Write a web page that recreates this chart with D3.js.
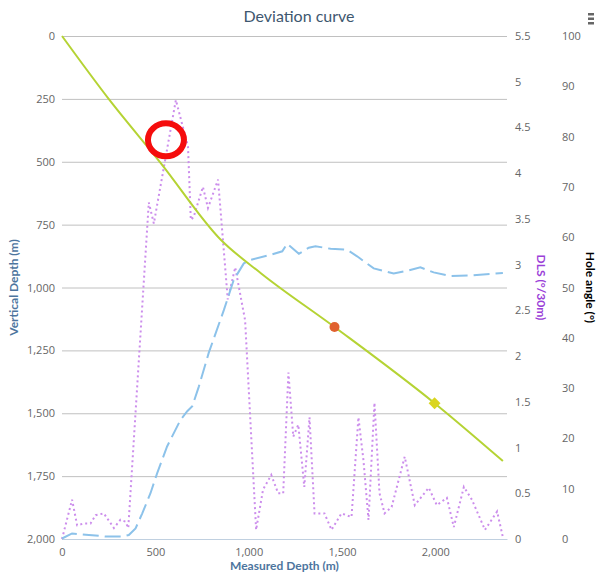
<!DOCTYPE html>
<html>
<head>
<meta charset="utf-8">
<script src="https://cdn.jsdelivr.net/npm/d3@7"></script>
<style>
  body { margin: 0; background: #fff; }
  svg { font-family: Lato, "Open Sans", sans-serif; display: block; }
  .tick text { font-family: "Open Sans", sans-serif; }
</style>
</head>
<body>
<div id="chart"></div>
<script>
// survey: vertical depth vs measured depth (left axis)
const tvdMd = [0, 250, 530, 852, 1067, 1460, 1996, 2362];
const tvdVal = [0, 250, 506, 811, 944, 1157, 1460, 1690];

// markers on the trajectory
const redPoint = [1460, 1157];
const yellowPoint = [1996, 1460];

// highlight ring drawn over the chart (md, depth)
const ringPoint = [557, 413];

// hole angle (deg), right outer axis
const angMd = [0, 54, 144, 233, 322, 358, 394, 430, 474, 510, 563, 635, 671, 698, 733, 786, 867, 920, 974, 1010,
  1117, 1180, 1206, 1269, 1322, 1358, 1439, 1528, 1581, 1670, 1777, 1858, 1920, 1991, 2081, 2188, 2295, 2362];
const angVal = [0.1, 1.1, 0.8, 0.5, 0.5, 0.8, 2.1, 5.1, 9.1, 13.1, 18.4, 23.7, 25.4, 26.4, 30.3, 37, 45.5, 51.5, 54.8, 55.5,
  56.5, 57.2, 58.7, 56.7, 57.9, 58.2, 57.7, 57.5, 56.2, 53.8, 52.8, 53.4, 54, 53, 52.3, 52.4, 52.7, 52.9];

// dog leg severity (deg/30m), right inner axis
const dlsMd = [0, 54, 81, 117, 153, 180, 224, 278, 313, 340, 355, 465, 492, 610, 675, 690, 705, 755, 782, 836, 888, 928, 981,
  1040, 1077, 1121, 1158, 1185, 1213, 1239, 1266, 1298, 1326, 1353, 1406, 1444, 1497, 1551, 1588, 1615, 1642, 1674,
  1701, 1728, 1766, 1836, 1890, 1965, 2008, 2062, 2099, 2153, 2196, 2266, 2331, 2362];
const dlsVal = [0, 0.43, 0.15, 0.17, 0.17, 0.26, 0.28, 0.12, 0.21, 0.19, 0.12, 3.68, 3.45, 4.8, 4.29, 3.49, 3.52, 3.85, 3.62, 3.93, 2.62, 2.97, 2.39,
  0.1, 0.54, 0.7, 0.5, 0.5, 1.82, 1.12, 1.25, 0.57, 1.33, 0.28, 0.28, 0.1, 0.28, 0.24, 1.33, 0.86, 0.21, 1.49,
  0.5, 0.28, 0.35, 0.9, 0.37, 0.56, 0.37, 0.45, 0.13, 0.57, 0.43, 0.1, 0.3, 0.02];

const depthTicks = [0, 250, 500, 750, 1000, 1250, 1500, 1750, 2000];
const mdTicks = [0, 500, 1000, 1500, 2000];
const dlsTicks = d3.range(0, 5.51, 0.5);
const angTicks = d3.range(0, 101, 10);

const W = 598, H = 574;
const pLeft = 62, pRight = 507, pTop = 36, pBottom = 539;

const svg = d3.select("#chart").append("svg")
  .attr("width", W).attr("height", H);

const x = d3.scaleLinear().domain([0, 2384]).range([pLeft, pRight]);
const yDepth = d3.scaleLinear().domain([0, 2000]).range([pTop, pBottom]);
const yDls = d3.scaleLinear().domain([0, 5.5]).range([pBottom, pTop]);
const yAng = d3.scaleLinear().domain([0, 100]).range([pBottom, pTop]);

const fmt = d3.format(",");

// grid
svg.append("g")
  .attr("transform", `translate(${pLeft},0)`)
  .call(d3.axisLeft(yDepth).tickValues(depthTicks).tickSize(-(pRight - pLeft)).tickFormat(""))
  .call(g => g.select(".domain").remove())
  .call(g => g.selectAll("line").attr("stroke", "#c0c0c0"));

// x axis
svg.append("g")
  .attr("transform", `translate(0,${pBottom})`)
  .call(d3.axisBottom(x).tickValues(mdTicks).tickFormat(fmt).tickSize(0).tickPadding(9))
  .call(g => g.select(".domain").attr("stroke", "#c0d0e0"))
  .call(g => g.selectAll("text").attr("fill", "#666").style("font-size", "11px"));

// left axis
svg.append("g")
  .attr("transform", `translate(${pLeft - 7},0)`)
  .call(d3.axisLeft(yDepth).tickValues(depthTicks).tickFormat(fmt).tickSize(0).tickPadding(0))
  .call(g => g.select(".domain").remove())
  .call(g => g.selectAll("text").attr("fill", "#666").style("font-size", "11px"));

// DLS axis
svg.append("g")
  .attr("transform", `translate(515,0)`)
  .call(d3.axisRight(yDls).tickValues(dlsTicks).tickFormat(d3.format("~g")).tickSize(0).tickPadding(0))
  .call(g => g.select(".domain").remove())
  .call(g => g.selectAll("text").attr("fill", "#666").style("font-size", "11px"));

// hole angle axis
svg.append("g")
  .attr("transform", `translate(562,0)`)
  .call(d3.axisRight(yAng).tickValues(angTicks).tickSize(0).tickPadding(0))
  .call(g => g.select(".domain").remove())
  .call(g => g.selectAll("text").attr("fill", "#666").style("font-size", "11px"));

// titles
svg.append("text").attr("x", W / 2).attr("y", 22).attr("text-anchor", "middle")
  .attr("fill", "#3e576f").style("font-size", "16px").text("Deviation curve");

svg.append("text").attr("x", (pLeft + pRight) / 2).attr("y", 570).attr("text-anchor", "middle")
  .attr("fill", "#4d759e").style("font-size", "12px").style("font-weight", "bold")
  .text("Measured Depth (m)");

svg.append("text").attr("transform", `translate(18,${(pTop + pBottom) / 2}) rotate(-90)`)
  .attr("text-anchor", "middle").attr("fill", "#4d759e")
  .style("font-size", "12px").style("font-weight", "bold").text("Vertical Depth (m)");

svg.append("text").attr("transform", `translate(537,${(pTop + pBottom) / 2}) rotate(90)`)
  .attr("text-anchor", "middle").attr("fill", "#9b3fd8")
  .style("font-size", "12px").style("font-weight", "bold").text("DLS (°/30m)");

svg.append("text").attr("transform", `translate(586,${(pTop + pBottom) / 2}) rotate(90)`)
  .attr("text-anchor", "middle").attr("fill", "#000")
  .style("font-size", "12px").style("font-weight", "bold").text("Hole angle (°)");

// menu button
svg.append("g").selectAll("rect").data([0, 1, 2]).join("rect")
  .attr("x", 588).attr("y", d => 13 + d * 4.5).attr("width", 6).attr("height", 2.5)
  .attr("fill", "#666");

// series
const plot = svg.append("g");

plot.append("path")
  .datum(d3.zip(dlsMd, dlsVal))
  .attr("fill", "none").attr("stroke", "#cc8eec").attr("stroke-width", 2)
  .attr("stroke-dasharray", "2,3")
  .attr("d", d3.line().x(d => x(d[0])).y(d => yDls(d[1])));

plot.append("path")
  .datum(d3.zip(angMd, angVal))
  .attr("fill", "none").attr("stroke", "#8cc2ea").attr("stroke-width", 2)
  .attr("stroke-dasharray", "16,6")
  .attr("d", d3.line().x(d => x(d[0])).y(d => yAng(d[1])));

plot.append("path")
  .datum(d3.zip(tvdMd, tvdVal))
  .attr("fill", "none").attr("stroke", "#b5d334").attr("stroke-width", 2)
  .attr("d", d3.line().curve(d3.curveMonotoneX).x(d => x(d[0])).y(d => yDepth(d[1])));

plot.append("circle")
  .attr("cx", x(redPoint[0])).attr("cy", yDepth(redPoint[1])).attr("r", 5)
  .attr("fill", "#e0612f");

plot.append("path")
  .attr("transform", `translate(${x(yellowPoint[0])},${yDepth(yellowPoint[1])})`)
  .attr("d", d3.symbol(d3.symbolDiamond2, 90)())
  .attr("fill", "#dad51e");

// red highlight ring
svg.append("ellipse")
  .attr("cx", x(ringPoint[0])).attr("cy", yDepth(ringPoint[1]))
  .attr("rx", 18).attr("ry", 16.5)
  .attr("fill", "none").attr("stroke", "#f50d0d").attr("stroke-width", 6);
</script>
</body>
</html>
